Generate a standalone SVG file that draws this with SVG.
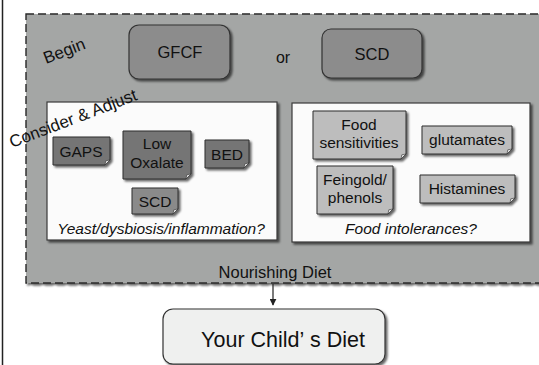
<svg xmlns="http://www.w3.org/2000/svg" width="539" height="365" viewBox="0 0 539 365">
  <defs>
    <filter id="shadow" x="-10%" y="-10%" width="130%" height="140%">
      <feDropShadow dx="2" dy="2" stdDeviation="1.2" flood-color="#000" flood-opacity="0.6"/>
    </filter>
    <marker id="arrow" viewBox="0 0 10 10" refX="9" refY="5" markerWidth="7" markerHeight="7" orient="auto" markerUnits="userSpaceOnUse">
      <path d="M0,0 L10,5 L0,10 Z" fill="#222"/>
    </marker>
  </defs>
  <style>
    text { font-family: "Liberation Sans", Arial, sans-serif; fill: #111; }
    .lbl { font-size: 15.5px; text-anchor: middle; }
    .big { font-size: 16.5px; text-anchor: middle; }
    .cap { font-size: 15.5px; font-style: italic; text-anchor: middle; }
    .rot { font-size: 17px; }
    .note-dark { fill: #747474; stroke: #2e2e2e; stroke-width: 1; }
    .note-mid { fill: #8a8a8a; stroke: #2e2e2e; stroke-width: 1; }
    .note-light { fill: #bdbdbd; stroke: #2e2e2e; stroke-width: 1; }
    .fold { fill: #e6e6e6; stroke: #2e2e2e; stroke-width: 0.6; }
    .start { fill: #8c8c8c; stroke: #333; stroke-width: 1.2; }
    .panel { fill: #fbfbfb; stroke: #3a3a3a; stroke-width: 1.2; }
  </style>

  <!-- page edge line -->
  <line x1="2.5" y1="0" x2="2.5" y2="365" stroke="#222" stroke-width="1.5"/>

  <!-- Nourishing Diet container -->
  <g id="nourishing-diet">
    <rect x="26" y="14" width="520" height="269" fill="#a4a6a5" stroke="#2a2a2a" stroke-width="1.4" stroke-dasharray="8 4" filter="url(#shadow)"/>
    <text x="275" y="278" class="lbl" style="font-size:16.5px">Nourishing Diet</text>
    <text class="rot" transform="translate(46,64) rotate(-21)">Begin</text>
    <text x="283" y="63" class="lbl" style="font-size:16px">or</text>
  </g>

  <g id="gfcf">
    <rect x="129" y="25" width="101" height="54" rx="10" class="start" filter="url(#shadow)"/>
    <text x="180" y="58" class="big">GFCF</text>
  </g>

  <g id="scd-begin">
    <rect x="322" y="29" width="100" height="49" rx="9" class="start" filter="url(#shadow)"/>
    <text x="372" y="60" class="big">SCD</text>
  </g>

  <!-- Yeast / dysbiosis panel -->
  <g id="yeast-panel">
    <rect x="47" y="102" width="230" height="138" class="panel" filter="url(#shadow)"/>
    <text x="161" y="234" class="cap">Yeast/dysbiosis/inflammation?</text>
  </g>

  <g id="gaps">
    <path d="M53,137 H110 V160 L105,165 H53 Z" class="note-dark" filter="url(#shadow)"/>
    <path d="M110,160 L105,165 L105.8,160.8 Z" class="fold"/>
    <text x="81" y="157" class="lbl">GAPS</text>
  </g>

  <g id="low-oxalate">
    <path d="M123,131 H191 V174 L186,179 H123 Z" class="note-dark" filter="url(#shadow)"/>
    <path d="M191,174 L186,179 L186.8,174.8 Z" class="fold"/>
    <text x="157" y="149" class="lbl">Low</text>
    <text x="157" y="168" class="lbl">Oxalate</text>
  </g>

  <g id="bed">
    <path d="M205,140 H249 V163 L244,168 H205 Z" class="note-dark" filter="url(#shadow)"/>
    <path d="M249,163 L244,168 L244.8,163.8 Z" class="fold"/>
    <text x="227" y="160" class="lbl">BED</text>
  </g>

  <g id="scd-yeast">
    <path d="M132,188 H178 V209 L173,214 H132 Z" class="note-mid" filter="url(#shadow)"/>
    <path d="M178,209 L173,214 L173.8,209.8 Z" class="fold"/>
    <text x="155" y="207" class="lbl">SCD</text>
  </g>

  <!-- Food intolerances panel -->
  <g id="intolerance-panel">
    <rect x="292" y="103" width="238" height="139" class="panel" filter="url(#shadow)"/>
    <text x="411" y="234" class="cap">Food intolerances?</text>
  </g>

  <g id="food-sensitivities">
    <path d="M313,111 H406 V154 L401,159 H313 Z" class="note-light" filter="url(#shadow)"/>
    <path d="M406,154 L401,159 L401.8,154.8 Z" class="fold"/>
    <text x="359" y="130" class="lbl">Food</text>
    <text x="359" y="148" class="lbl">sensitivities</text>
  </g>

  <g id="glutamates">
    <path d="M422,126 H512 V149 L507,154 H422 Z" class="note-light" filter="url(#shadow)"/>
    <path d="M512,149 L507,154 L507.8,149.8 Z" class="fold"/>
    <text x="467" y="145" class="lbl">glutamates</text>
  </g>

  <g id="feingold">
    <path d="M317,166 H393 V209 L388,214 H317 Z" class="note-light" filter="url(#shadow)"/>
    <path d="M393,209 L388,214 L388.8,209.8 Z" class="fold"/>
    <text x="355" y="185" class="lbl">Feingold/</text>
    <text x="355" y="203" class="lbl">phenols</text>
  </g>

  <g id="histamines">
    <path d="M420,175 H515 V198 L510,203 H420 Z" class="note-light" filter="url(#shadow)"/>
    <path d="M515,198 L510,203 L510.8,198.8 Z" class="fold"/>
    <text x="467" y="194" class="lbl">Histamines</text>
  </g>

  <!-- stage label drawn over the panel edge -->
  <text class="rot" transform="translate(12,148) rotate(-21)">Consider &amp; Adjust</text>

  <g id="your-childs-diet">
    <rect x="163" y="309" width="222" height="55" rx="10" fill="#eff0ef" stroke="#333" stroke-width="1.2" filter="url(#shadow)"/>
    <text x="283" y="347" font-size="21.5" text-anchor="middle">Your Child’<tspan dx="6">s Diet</tspan></text>
  </g>

  <g id="connectors">
    <line x1="273" y1="284" x2="273" y2="305" stroke="#222" stroke-width="1.2" marker-end="url(#arrow)"/>
  </g>
</svg>
